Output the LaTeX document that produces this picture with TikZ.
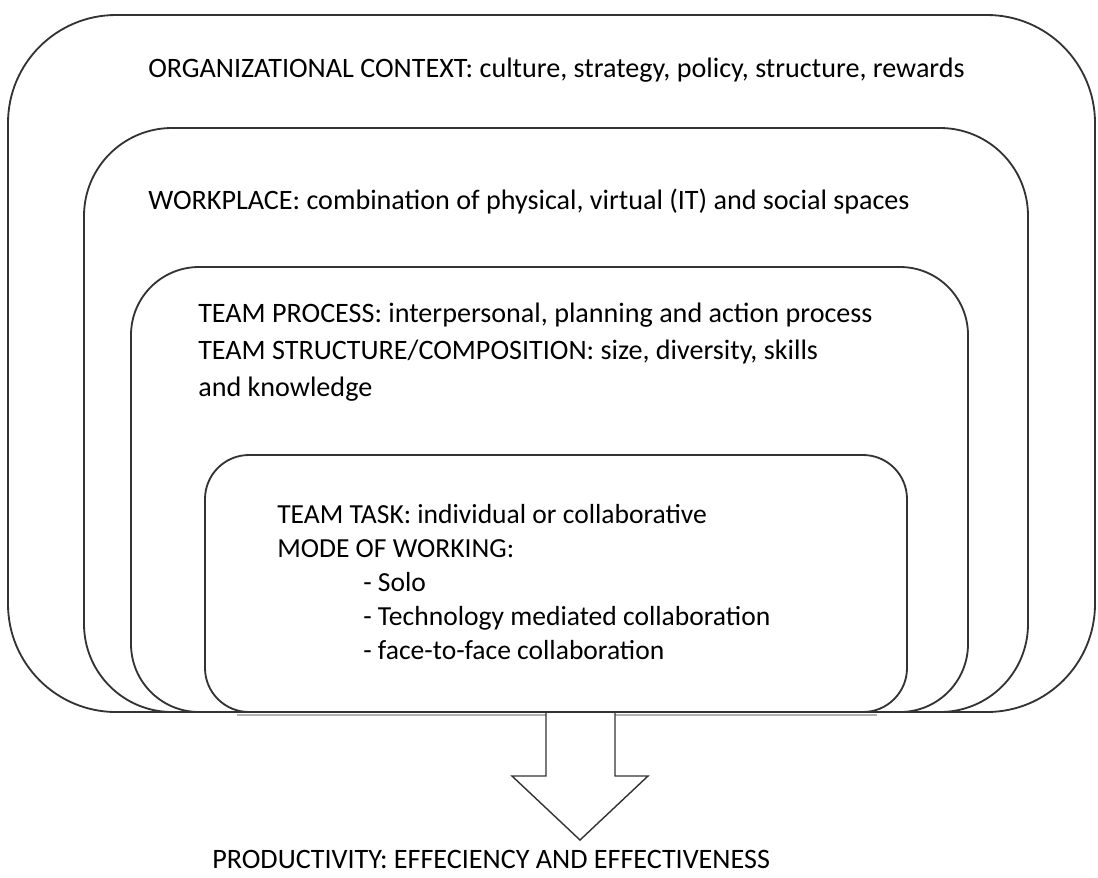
\documentclass[tikz,border=0pt]{standalone}
\usepackage{fontspec}
\setmainfont{Carlito}
\usetikzlibrary{positioning, calc}

\begin{document}
\begin{tikzpicture}[
  x=0.025cm, y=-0.025cm,
  layer/.style={draw=black!80, line width=1.3pt, fill=white},
  shadowline/.style={draw=black!30, line width=1.3pt},
  ltext/.style={anchor=base west, inner sep=0pt, text=black, font=\fontsize{20}{24}\selectfont},
  ttext/.style={ltext, font=\fontsize{19.6}{24}\selectfont}
]
  \useasboundingbox (0,0) rectangle (1098,877);

  % nested layers
  \draw[layer, rounded corners=2.7cm] (8,15) rectangle (1095,712);
  \draw[layer, rounded corners=2.2cm] (84,128) rectangle (1028,712);
  \draw[layer, rounded corners=1.7cm] (131,267) rectangle (968,712);
  \draw[layer, rounded corners=1.1cm] (205,455) rectangle (907,712);
  \draw[shadowline] (237,715) -- (546,715) (615,715) -- (877,715);

  % arrow to the outcome
  \coordinate (shaftL) at (546,712);
  \coordinate (shaftR) at (615,712);
  \coordinate (tip) at (580,840);
  \draw[layer, line width=1pt] (shaftL) -- (546,776) -- (512,776) -- (tip) -- (648,776) -- (615,776) -- (shaftR);
  \draw[draw=black!80, line width=1.3pt] (shaftL) -- (shaftR);

  \node[ltext] (org) at (148,77) {ORGANIZATIONAL CONTEXT: culture, strategy, policy, structure, rewards};
  \node[ltext] (work) at (148,209) {WORKPLACE: combination of physical, virtual (IT) and social spaces};

  \node[ltext] (procA) at (198,322) {TEAM PROCESS: interpersonal, planning and action process};
  \node[ltext] (procB) at (198,359) {TEAM STRUCTURE/COMPOSITION: size, diversity, skills};
  \node[ltext] (procC) at (198,396) {and knowledge};

  \node[ttext] (taskA) at (277,523) {TEAM TASK: individual or collaborative};
  \node[ttext] (taskB) at (277,557) {MODE OF WORKING:};
  \node[ttext] (modeA) at (363,591) {- Solo};
  \node[ttext] (modeB) at (363,625) {- Technology mediated collaboration};
  \node[ttext] (modeC) at (363,659) {- face-to-face collaboration};

  \node[ltext] (prod) at (212,868) {PRODUCTIVITY: EFFECIENCY AND EFFECTIVENESS};
\end{tikzpicture}
\end{document}
